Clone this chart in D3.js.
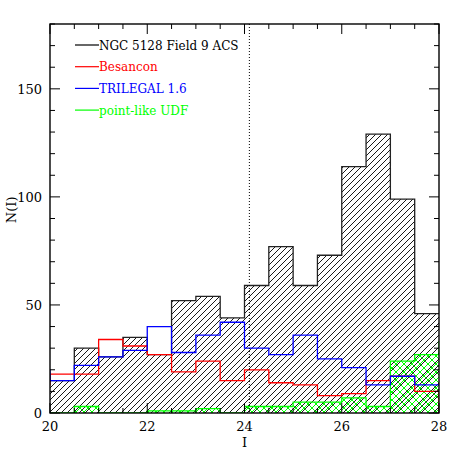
<!DOCTYPE html>
<html><head><meta charset="utf-8">
<script src="https://cdn.jsdelivr.net/npm/d3@7"></script>
<style>body{margin:0;background:#fff}svg{display:block}text{font-family:"DejaVu Serif","Liberation Serif",serif}</style>
</head><body><svg id="c" width="463" height="463"></svg>
<script>
// bin left edges (width 0.5); first and last bins are only partially visible (clipped)
const binStarts = [19.5,20,20.5,21,21.5,22,22.5,23,23.5,24,24.5,25,25.5,26,26.5,27,27.5,28];
const ngc      = [15,15,30,26,35,27,52,54,44,59,77,59,73,114,129,99,46,46];
const besancon = [13,18,18,34,31,27,19,24,15,20,14,13,8,9,15,17,10,0];
const trilegal = [20,15,22,26,29,40,28,36,42,30,27,36,25,21,13,17,13,13];
const udf      = [0,0,3,0,0,1,1,2,0,3,3,5,5,7,3,24,27,33];
const xTicks = [20,22,24,26,28];
const yTicks = [0,50,100,150];
const cutLine = 24.1;
const legendLabels = ["NGC 5128 Field 9 ACS","Besancon","TRILEGAL 1.6","point-like UDF"];
const legendColors = ["#000","#f00","#00f","#0f0"];

const svg = d3.select("#c");
const L=50,R=439,T=24,B=413;
const x = d3.scaleLinear().domain([20,28]).range([L,R]);
const y = d3.scaleLinear().domain([0,180]).range([B,T]);
const bw = 0.5;

const defs = svg.append("defs");
defs.append("clipPath").attr("id","clip").append("rect").attr("x",L).attr("y",T).attr("width",R-L).attr("height",B-T);
const hp = defs.append("pattern").attr("id","hatch").attr("patternUnits","userSpaceOnUse").attr("width",6).attr("height",6);
hp.append("path").attr("d","M-1,1 L1,-1 M0,6 L6,0 M5,7 L7,5").attr("stroke","#000").attr("stroke-width",0.9);
const gp = defs.append("pattern").attr("id","cross").attr("patternUnits","userSpaceOnUse").attr("width",8).attr("height",8);
gp.append("path").attr("d","M-1,1 L1,-1 M0,8 L8,0 M7,9 L9,7 M-1,7 L1,9 M0,0 L8,8 M7,-1 L9,1").attr("stroke","#0f0").attr("stroke-width",1);

function stepPts(vals){
  const pts=[];
  vals.forEach((v,i)=>{pts.push([x(binStarts[i]),y(v)]);pts.push([x(binStarts[i]+bw),y(v)]);});
  return pts;
}
function areaPath(vals){
  const p=stepPts(vals);
  return "M"+p[0][0]+","+y(0)+"L"+p.map(q=>q.join(",")).join("L")+"L"+p[p.length-1][0]+","+y(0)+"Z";
}
function linePath(vals){ return "M"+stepPts(vals).map(q=>q.join(",")).join("L"); }

const g = svg.append("g").attr("clip-path","url(#clip)");
g.append("path").attr("d",areaPath(ngc)).attr("fill","url(#hatch)");
g.append("path").attr("d",linePath(ngc)).attr("fill","none").attr("stroke","#222").attr("stroke-width",1.3);
g.append("path").attr("d",areaPath(udf)).attr("fill","url(#cross)");
g.append("path").attr("d",linePath(udf)).attr("fill","none").attr("stroke","#0f0").attr("stroke-width",1.3);
g.append("path").attr("d",linePath(besancon)).attr("fill","none").attr("stroke","#f00").attr("stroke-width",1.3);
g.append("path").attr("d",linePath(trilegal)).attr("fill","none").attr("stroke","#00f").attr("stroke-width",1.3);

// dotted cut line
svg.append("line").attr("x1",x(cutLine)).attr("x2",x(cutLine)).attr("y1",T).attr("y2",B)
  .attr("stroke","#000").attr("stroke-width",1).attr("stroke-dasharray","1,2");

// frame
svg.append("rect").attr("x",L).attr("y",T).attr("width",R-L).attr("height",B-T).attr("fill","none").attr("stroke","#000").attr("stroke-width",1.4);

// ticks (inward, all four sides)
const tk = svg.append("g").attr("stroke","#000").attr("stroke-width",1);
d3.range(20,28.001,0.5).forEach(v=>{
  const major = Math.abs(v/2-Math.round(v/2))<1e-6;
  const len = major?10:5;
  tk.append("line").attr("x1",x(v)).attr("x2",x(v)).attr("y1",B).attr("y2",B-len);
  tk.append("line").attr("x1",x(v)).attr("x2",x(v)).attr("y1",T).attr("y2",T+len);
});
d3.range(0,180.001,10).forEach(v=>{
  const major = v%50===0;
  const len = major?10:5;
  tk.append("line").attr("x1",L).attr("x2",L+len).attr("y1",y(v)).attr("y2",y(v));
  tk.append("line").attr("x1",R).attr("x2",R-len).attr("y1",y(v)).attr("y2",y(v));
});

// tick labels
svg.append("g").selectAll("text").data(xTicks).join("text")
  .attr("x",d=>x(d)).attr("y",431).attr("text-anchor","middle").attr("font-size",13).text(d=>d);
svg.append("g").selectAll("text").data(yTicks).join("text")
  .attr("x",42).attr("y",d=>y(d)+5).attr("text-anchor","end").attr("font-size",13).text(d=>d);

svg.append("text").attr("x",x(24)).attr("y",447).attr("text-anchor","middle").attr("font-size",13).text("I");
svg.append("text").attr("transform","translate(16,"+y(94)+") rotate(-90)").attr("text-anchor","middle").attr("font-size",13).text("N(I)");

// legend
const lg = svg.append("g");
legendLabels.forEach((t,i)=>{
  const yy = 45 + i*21.7;
  lg.append("line").attr("x1",75).attr("x2",99).attr("y1",yy).attr("y2",yy).attr("stroke",legendColors[i]).attr("stroke-width",1.2);
  lg.append("text").attr("x",99).attr("y",yy+4.5).attr("font-size",12).attr("fill",legendColors[i]).text(t);
});
</script></body></html>
